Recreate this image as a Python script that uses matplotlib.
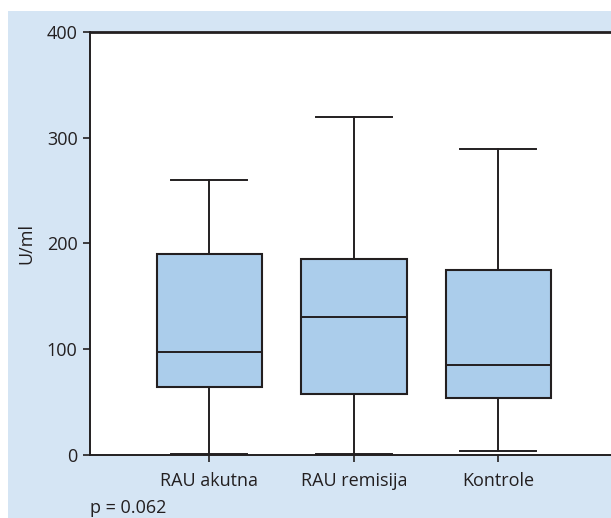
import matplotlib
matplotlib.use("Agg")
import matplotlib.pyplot as plt
from matplotlib.patches import Rectangle

# data
groups = ["RAU akutna", "RAU remisija", "Kontrole"]
whisker_low = [1, 1, 4]
q1 = [64.6, 57.7, 53.6]
median = [97.5, 130.8, 85.4]
q3 = [190, 185.6, 175]
whisker_high = [260, 320, 289]
yticks = [0, 100, 200, 300, 400]

plt.rcParams['font.family'] = ['Open Sans', 'DejaVu Sans']

fig = plt.figure(figsize=(6.11, 5.18), dpi=100)
fig.patch.set_facecolor("white")
# light blue panel behind the chart
fig.patches.append(Rectangle((8 / 611, 0), 1, 1 - 11 / 518, transform=fig.transFigure,
                             facecolor="#d5e5f4", edgecolor="none", zorder=-10))

ax = fig.add_axes([90 / 611, 1 - 455 / 518, 1 - 90 / 611, (455 - 32) / 518])
ax.set_zorder(1)
ax.set_facecolor("white")

stats = []
for i, name in enumerate(groups):
    stats.append(dict(label=name, whislo=whisker_low[i], q1=q1[i], med=median[i],
                      q3=q3[i], whishi=whisker_high[i], fliers=[]))

line = dict(color="#231f20", linewidth=1.4)
ax.bxp(stats, positions=[1, 2, 3], widths=0.73, patch_artist=True, showfliers=False,
       boxprops=dict(facecolor="#abcdeb", edgecolor="#231f20", linewidth=1.5),
       medianprops=line, whiskerprops=line, capprops=line, capwidths=0.525)

ax.set_xlim(0.174, 3.78)
ax.set_ylim(0, 400)
ax.set_yticks(yticks)
ax.spines["right"].set_visible(False)
for s in ["left", "top", "bottom"]:
    ax.spines[s].set_color("#231f20")
    ax.spines[s].set_linewidth(1.4)
ax.spines["top"].set_linewidth(2)
ax.tick_params(axis="both", direction="out", length=5, width=1.2, color="#231f20",
               labelsize=13, labelcolor="#231f20")
ax.tick_params(axis="x", pad=7)
ax.tick_params(axis="y", pad=4)
ax.set_ylabel("U/ml", fontsize=13, color="#231f20", labelpad=8)

fig.text(90 / 611, 1 - 508 / 518, "p = 0.062", fontsize=13, color="#231f20",
         va="center", ha="left", zorder=2)

fig.savefig("out.png", dpi=100, facecolor=fig.get_facecolor())
